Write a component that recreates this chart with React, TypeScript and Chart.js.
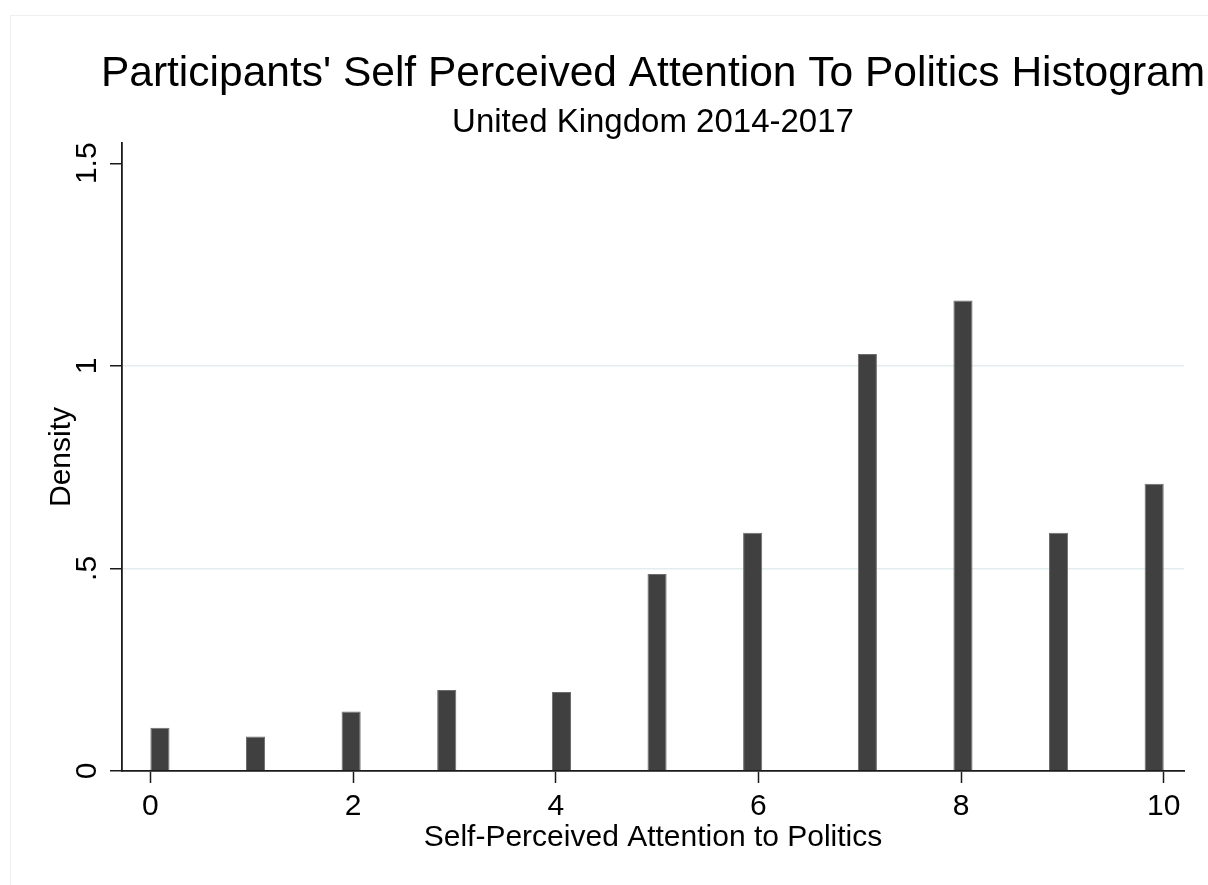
import React, { useEffect, useRef } from 'react';
import { Chart, registerables } from 'chart.js';

Chart.register(...registerables);

// Histogram of self-perceived attention to politics (density scale)
const SCORES = [0, 1, 2, 3, 4, 5, 6, 7, 8, 9, 10];
const DENSITY = [0.107, 0.085, 0.147, 0.2, 0.195, 0.486, 0.588, 1.029, 1.161, 0.588, 0.709];

// Histogram binning over the score range
const SCORE_MIN = 0;
const SCORE_MAX = 10;
const N_BINS = 53;

const X_TICKS = [0, 2, 4, 6, 8, 10];
const Y_TICKS = [0, 0.5, 1, 1.5];
const Y_TICK_LABELS = ['0', '.5', '1', '1.5'];

const TITLE = "Participants' Self Perceived Attention To Politics Histogram";
const SUBTITLE = 'United Kingdom 2014-2017';
const X_TITLE = 'Self-Perceived Attention to Politics';
const Y_TITLE = 'Density';

const FONT = "'Liberation Sans', Arial, Helvetica, sans-serif";
const AXIS_COLOR = '#1a1a1a';
const BAR_FILL = '#404040';
const BAR_EDGE = '#6c6c6c';
const GRID_COLOR = '#e3edf0';
const LABEL_SIZE = 30;

const binWidth = (SCORE_MAX - SCORE_MIN) / N_BINS;
const binIndex = (score: number) =>
  Math.min(N_BINS - 1, Math.floor(((score - SCORE_MIN) * N_BINS) / (SCORE_MAX - SCORE_MIN) + 1e-9));
const binCenter = (score: number) => SCORE_MIN + (binIndex(score) + 0.5) * binWidth;

// one bin wide bars: the bar fraction is 1 / (smallest gap between occupied bins)
const occupied = SCORES.map(binIndex);
const minGapBins = occupied.slice(1).reduce((m, b, i) => Math.min(m, b - occupied[i]), Infinity);

const points = SCORES.map((s, i) => ({ x: binCenter(s), y: DENSITY[i] }));

const decorPlugin = {
  id: 'decor',
  beforeDraw(chart: any) {
    const { ctx, width, height } = chart;
    ctx.save();
    ctx.fillStyle = '#ffffff';
    ctx.fillRect(0, 0, width, height);
    ctx.strokeStyle = '#efefef';
    ctx.lineWidth = 1;
    ctx.strokeRect(10.5, 15.5, width + 20, height + 20);
    ctx.restore();
  },
  afterDraw(chart: any) {
    const { ctx, chartArea, scales } = chart;
    const cx = (chartArea.left + chartArea.right) / 2;
    ctx.save();
    ctx.fillStyle = '#000000';
    ctx.textAlign = 'center';
    ctx.textBaseline = 'alphabetic';
    ctx.font = `42.5px ${FONT}`;
    ctx.fillText(TITLE, cx, chartArea.top - 57);
    ctx.font = `33px ${FONT}`;
    ctx.fillText(SUBTITLE, cx, chartArea.top - 11.5);

    // rotated y tick labels
    ctx.font = `${LABEL_SIZE}px ${FONT}`;
    ctx.textBaseline = 'middle';
    const yScale = scales.y;
    Y_TICKS.forEach((v, i) => {
      const py = yScale.getPixelForValue(v);
      ctx.save();
      ctx.translate(chartArea.left - 34.5, py);
      ctx.rotate(-Math.PI / 2);
      ctx.fillText(Y_TICK_LABELS[i], 0, 0);
      ctx.restore();
    });
    ctx.restore();
  },
};

export default function App() {
  const canvasRef = useRef<HTMLCanvasElement | null>(null);

  useEffect(() => {
    const canvas = canvasRef.current;
    if (!canvas) return;
    const chart = new Chart(canvas, {
      type: 'bar',
      data: {
        datasets: [
          {
            data: points as any,
            backgroundColor: BAR_FILL,
            borderColor: BAR_EDGE,
            borderWidth: 1,
            borderSkipped: 'start',
            barPercentage: 1 / minGapBins,
            categoryPercentage: 1,
          },
        ],
      },
      options: {
        animation: false,
        responsive: false,
        devicePixelRatio: 1,
        layout: { padding: { top: 143, left: 0, right: 24, bottom: 0 } },
        plugins: {
          legend: { display: false },
          tooltip: { enabled: false },
          title: { display: false },
        },
        scales: {
          x: {
            type: 'linear',
            min: -0.28,
            max: 10.2,
            offset: false,
            afterBuildTicks: (scale: any) => {
              scale.ticks = X_TICKS.map((v) => ({ value: v }));
            },
            afterFit: (scale: any) => {
              scale.height = 114;
            },
            grid: {
              offset: false,
              display: true,
              drawOnChartArea: false,
              drawTicks: true,
              tickLength: 12,
              tickColor: AXIS_COLOR,
              tickWidth: 1.5,
            },
            border: { display: true, color: AXIS_COLOR, width: 1.8 },
            ticks: {
              padding: 6,
              color: '#000',
              font: { family: FONT, size: LABEL_SIZE },
              maxRotation: 0,
              minRotation: 0,
              callback: (v: any) => String(v),
            },
            title: {
              display: true,
              text: X_TITLE,
              color: '#000',
              font: { family: FONT, size: LABEL_SIZE },
              padding: { top: 0, bottom: 29 },
            },
          },
          y: {
            type: 'linear',
            min: 0,
            max: 1.55,
            afterBuildTicks: (scale: any) => {
              scale.ticks = Y_TICKS.map((v) => ({ value: v }));
            },
            afterFit: (scale: any) => {
              scale.width = 122;
            },
            grid: {
              display: true,
              drawOnChartArea: true,
              drawTicks: true,
              tickLength: 12,
              tickColor: AXIS_COLOR,
              tickWidth: 1.5,
              lineWidth: 1.5,
              color: (ctx: any) => {
                const v = ctx.tick ? ctx.tick.value : null;
                return v === 0.5 || v === 1 ? GRID_COLOR : 'rgba(0,0,0,0)';
              },
            },
            border: { display: true, color: AXIS_COLOR, width: 1.8 },
            ticks: { display: false },
            title: {
              display: true,
              text: Y_TITLE,
              color: '#000',
              font: { family: FONT, size: LABEL_SIZE },
              padding: { top: 44, bottom: 0 },
            },
          },
        },
      },
      plugins: [decorPlugin],
    } as any);
    return () => chart.destroy();
  }, []);

  return (
    <div style={{ position: 'absolute', left: 0, top: 0, width: 1208, height: 885 }}>
      <canvas ref={canvasRef} width={1208} height={885} style={{ display: 'block' }} />
    </div>
  );
}
